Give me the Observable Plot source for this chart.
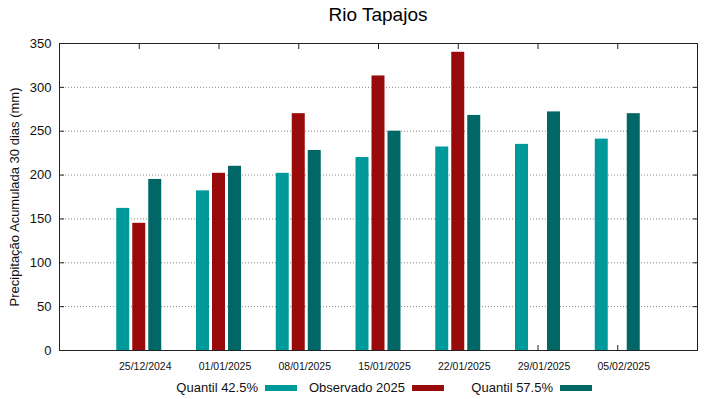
<!DOCTYPE html>
<html><head><meta charset="utf-8">
<script src="https://cdn.jsdelivr.net/npm/d3@7"></script>
<script src="https://cdn.jsdelivr.net/npm/@observablehq/plot@0.6"></script>
<style>
body{margin:0;background:#fff;font-family:"Liberation Sans",Arial,sans-serif;}
#wrap{position:relative;width:719px;height:399px;overflow:hidden;background:#fff;}
#title{position:absolute;left:59px;width:638px;top:4px;text-align:center;font-size:19px;line-height:22px;color:#000;}
#chart{position:absolute;left:0;top:0;}
.lt{position:absolute;font-size:13px;line-height:15px;top:380px;color:#111;white-space:nowrap;}
.sw{position:absolute;top:385px;height:6px;width:32px;}
</style>
</head><body>
<div id="wrap">
  <div id="chart"></div>
  <div id="title">Rio Tapajos</div>
  <div id="legend"></div>
</div>
<script>
const dates = ["25/12/2024","01/01/2025","08/01/2025","15/01/2025","22/01/2025","29/01/2025","05/02/2025"];
const q425 = [162, 182, 202, 220, 232, 235, 241];
const obs2025 = [145, 202, 270, 313, 340, null, null];
const q575 = [195, 210, 228, 250, 268, 272, 270];
const seriesNames = ["Quantil 42.5%", "Observado 2025", "Quantil 57.5%"];
const seriesColors = ["#009999", "#990b0b", "#006666"];
const yTicks = [0, 50, 100, 150, 200, 250, 300, 350];
const gridTicks = [50, 100, 150, 200, 250, 300];
const yLabel = "Precipitação Acumulada 30 dias (mm)";

const seriesValues = [q425, obs2025, q575];
const offsets = [-16, 0, 16];
const rows = seriesValues.map((vals, s) => dates.map((d, i) => ({date: d, value: vals[i], s})).filter(r => r.value != null));

const barW = 13;
const step = 638 / 8;
const inset = (step - barW) / 2;

const chart = Plot.plot({
  width: 719,
  height: 399,
  marginLeft: 59,
  marginRight: 22,
  marginTop: 43,
  marginBottom: 49,
  style: {fontFamily: '"Liberation Sans", Arial, sans-serif', background: "#fff", color: "#111"},
  x: {type: "band", domain: dates, paddingInner: 0, paddingOuter: 0.5, round: false},
  y: {domain: [0, 350]},
  marks: [
    Plot.gridY(gridTicks, {stroke: "#888", strokeOpacity: 1, strokeDasharray: "1,2"}),
    Plot.axisY(yTicks, {anchor: "left", tickSize: -5, tickFormat: () => "", label: null, stroke: "#222"}),
    Plot.axisY(yTicks, {anchor: "right", tickSize: -5, tickFormat: () => "", label: null, stroke: "#222"}),
    Plot.axisX(dates, {anchor: "top", tickSize: -5, tickFormat: () => "", label: null, stroke: "#222"}),
    Plot.axisX(dates, {anchor: "bottom", tickSize: -5, tickFormat: () => "", label: null, stroke: "#222"}),
    ...rows.map((data, s) => Plot.barY(data, {
      x: "date", y: "value", fill: seriesColors[s], dx: offsets[s],
      insetLeft: inset, insetRight: inset
    })),
    Plot.axisY(yTicks, {anchor: "left", tickSize: 0, tickPadding: 8, fontSize: 13, label: yLabel, labelAnchor: "center", labelArrow: "none", labelOffset: 50}),
    Plot.axisX(dates, {anchor: "bottom", tickSize: 0, tickPadding: 12, fontSize: 10.5, dx: 6, label: null}),
    Plot.frame({stroke: "#222"})
  ]
});
document.getElementById("chart").appendChild(chart);

// legend
const legend = document.getElementById("legend");
const textRight = [258, 405, 553];
const swLeft = [265, 412, 560];
seriesNames.forEach((name, i) => {
  const t = document.createElement("div");
  t.className = "lt";
  t.style.right = (719 - textRight[i]) + "px";
  t.textContent = name;
  legend.appendChild(t);
  const sw = document.createElement("div");
  sw.className = "sw";
  sw.style.left = swLeft[i] + "px";
  sw.style.background = seriesColors[i];
  legend.appendChild(sw);
});
</script>
</body></html>
